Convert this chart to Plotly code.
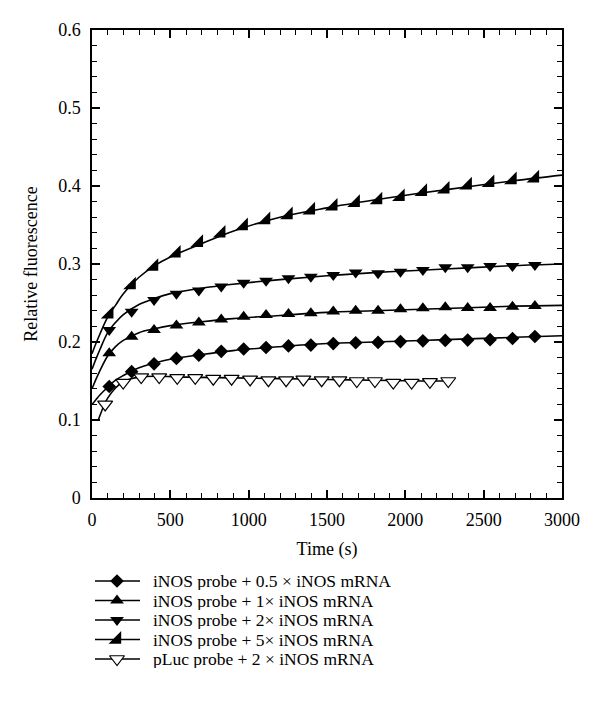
import plotly.graph_objects as go

# ---------------- data ----------------
t_inos = [110, 253, 396, 539, 682, 825, 968, 1111, 1254, 1397,
          1540, 1683, 1826, 1969, 2112, 2255, 2398, 2541, 2684, 2827]
y_05x = [0.143, 0.162, 0.172, 0.179, 0.183, 0.188, 0.191, 0.193, 0.195, 0.196,
         0.198, 0.199, 0.1995, 0.2005, 0.2015, 0.202, 0.2025, 0.203, 0.2045, 0.207]
y_1x = [0.1855, 0.2068, 0.2154, 0.221, 0.225, 0.229, 0.2325, 0.2346, 0.236, 0.237,
        0.239, 0.240, 0.2402, 0.242, 0.2432, 0.2444, 0.2435, 0.2435, 0.2453, 0.246]
y_2x = [0.2154, 0.2389, 0.2538, 0.262, 0.266, 0.271, 0.276, 0.2786, 0.2816, 0.2838,
        0.286, 0.289, 0.288, 0.290, 0.2923, 0.2957, 0.2957, 0.2974, 0.2974, 0.2987]
y_5x = [0.2355, 0.273, 0.2966, 0.3137, 0.3273, 0.3393, 0.3487, 0.3564, 0.3628, 0.369,
        0.374, 0.3786, 0.382, 0.386, 0.3927, 0.3957, 0.401, 0.404, 0.4077, 0.41]

t_pluc = [84, 199, 314, 429, 544, 659, 774, 891, 1009, 1126,
          1239, 1349, 1466, 1579, 1690, 1806, 1923, 2040, 2157, 2274]
y_pluc = [0.120, 0.148, 0.155, 0.155, 0.154, 0.154, 0.153, 0.153, 0.152, 0.151,
          0.151, 0.152, 0.151, 0.151, 0.150, 0.150, 0.148, 0.148, 0.149, 0.150]

# fitted curves
t_fit = [0, 25, 50, 100, 150, 200, 300, 400, 500, 700, 900, 1200, 1500, 1800, 2100, 2400, 2700, 3000]
fit_05x = [0.12, 0.126, 0.132, 0.142, 0.151, 0.157, 0.167, 0.173, 0.178, 0.184, 0.189, 0.194, 0.198, 0.200, 0.202, 0.204, 0.206, 0.208]
fit_1x = [0.14, 0.152, 0.163, 0.182, 0.194, 0.202, 0.212, 0.217, 0.221, 0.226, 0.230, 0.234, 0.238, 0.240, 0.242, 0.244, 0.246, 0.247]
fit_2x = [0.165, 0.178, 0.19, 0.212, 0.225, 0.235, 0.248, 0.256, 0.262, 0.269, 0.274, 0.280, 0.285, 0.289, 0.292, 0.295, 0.298, 0.300]
fit_5x = [0.185, 0.198, 0.21, 0.232, 0.247, 0.262, 0.283, 0.298, 0.309, 0.326, 0.342, 0.360, 0.372, 0.382, 0.391, 0.399, 0.407, 0.414]
t_fit_pluc = [40, 75, 100, 150, 200, 250, 300, 400, 600, 900, 1200, 1500, 1800, 2100, 2300]
fit_pluc = [0.10, 0.118, 0.128, 0.141, 0.149, 0.153, 0.155, 0.156, 0.155, 0.154, 0.153, 0.152, 0.151, 0.150, 0.150]

names = ["iNOS probe + 0.5 × iNOS mRNA",
         "iNOS probe + 1× iNOS mRNA",
         "iNOS probe + 2× iNOS mRNA",
         "iNOS probe + 5× iNOS mRNA",
         "pLuc probe + 2 × iNOS mRNA"]
x_ticks = [0, 500, 1000, 1500, 2000, 2500, 3000]
y_ticks = [0, 0.1, 0.2, 0.3, 0.4, 0.5, 0.6]
y_ticktext = ["0", "0.1", "0.2", "0.3", "0.4", "0.5", "0.6"]

FONT = "Liberation Serif, Times New Roman, serif"
W, H = 600, 721

symbols = ["diamond", "triangle-up", "triangle-down", "triangle-se", "triangle-down"]
fills = ["black", "black", "black", "black", "white"]
sizes = [10.5, 12, 12, 14, 13]
raw = [(t_inos, y_05x, t_fit, fit_05x), (t_inos, y_1x, t_fit, fit_1x),
       (t_inos, y_2x, t_fit, fit_2x), (t_inos, y_5x, t_fit, fit_5x),
       (t_pluc, y_pluc, t_fit_pluc, fit_pluc)]

fig = go.Figure()
# fitted curves first (behind markers)
for tx, ty, fx, fy in raw:
    fig.add_trace(go.Scatter(x=fx, y=fy, mode="lines", xaxis="x", yaxis="y",
                             line=dict(color="black", width=1.6, shape="spline"),
                             showlegend=False, hoverinfo="skip"))
for (tx, ty, fx, fy), sym, fill, sz, nm in zip(raw, symbols, fills, sizes, names):
    fig.add_trace(go.Scatter(x=tx, y=ty, mode="markers", name=nm, xaxis="x", yaxis="y",
                             showlegend=False,
                             marker=dict(symbol=sym, size=sz, color=fill,
                                         line=dict(color="black", width=1.2 if fill == "white" else 0))))

# ---- hand-made legend in a pixel-coordinate helper axis below the plot ----
leg_rows = [573.0, 592.5, 612.0, 631.5, 651.0]   # figure pixel rows
leg_x0, leg_xm, leg_x1, leg_xt = 87, 109, 132, 144
for yr in leg_rows:
    fig.add_trace(go.Scatter(x=[leg_x0, leg_x1], y=[yr, yr], mode="lines", xaxis="x2", yaxis="y2",
                             line=dict(color="black", width=1.5), showlegend=False, hoverinfo="skip"))
for yr, sym, fill, sz in zip(leg_rows, symbols, fills, sizes):
    fig.add_trace(go.Scatter(x=[leg_xm], y=[yr], mode="markers", xaxis="x2", yaxis="y2",
                             showlegend=False, hoverinfo="skip",
                             marker=dict(symbol=sym, size=sz, color=fill,
                                         line=dict(color="black", width=1.2 if fill == "white" else 0))))
annotations = [dict(x=leg_xt, y=yr, xref="x2", yref="y2", text=nm, showarrow=False,
                    xanchor="left", yanchor="middle", height=18, borderpad=0,
                    font=dict(family=FONT, size=17.5, color="black"))
               for yr, nm in zip(leg_rows, names)]

axis_common = dict(showline=True, linecolor="black", linewidth=1.5, mirror="allticks",
                   ticks="inside", tickcolor="black", tickwidth=1.5, ticklen=8,
                   showgrid=False, zeroline=False, automargin=False,
                   tickfont=dict(family=FONT, size=18, color="black"))

leg_dom_top = 0.30
fig.update_layout(
    width=W, height=H,
    margin=dict(l=0, r=0, t=0, b=0),
    paper_bgcolor="white", plot_bgcolor="rgba(0,0,0,0)",
    font=dict(family=FONT, size=18, color="black"),
    xaxis=dict(domain=[84 / W, 554 / W], range=[0, 3000], tickvals=x_ticks, ticklabelstandoff=5,
               anchor="y",
               minor=dict(ticks="inside", ticklen=5, tickwidth=1.2, tickcolor="black", dtick=100),
               title=dict(text="Time (s)", font=dict(family=FONT, size=18), standoff=13),
               **axis_common),
    yaxis=dict(domain=[1 - 490 / H, 1 - 22 / H], range=[0, 0.6], tickvals=y_ticks, ticktext=y_ticktext,
               ticklabelstandoff=6, anchor="x",
               minor=dict(ticks="inside", ticklen=5, tickwidth=1.2, tickcolor="black", dtick=0.02),
               title=dict(text="Relative fluorescence", font=dict(family=FONT, size=18), standoff=16),
               **axis_common),
    xaxis2=dict(domain=[0, 1], range=[0, W], visible=False, anchor="y2", fixedrange=True),
    yaxis2=dict(domain=[0, leg_dom_top], range=[H, H - leg_dom_top * H], visible=False,
                anchor="x2", fixedrange=True),
    annotations=annotations,
    showlegend=False,
)

fig.write_html("out.html")
